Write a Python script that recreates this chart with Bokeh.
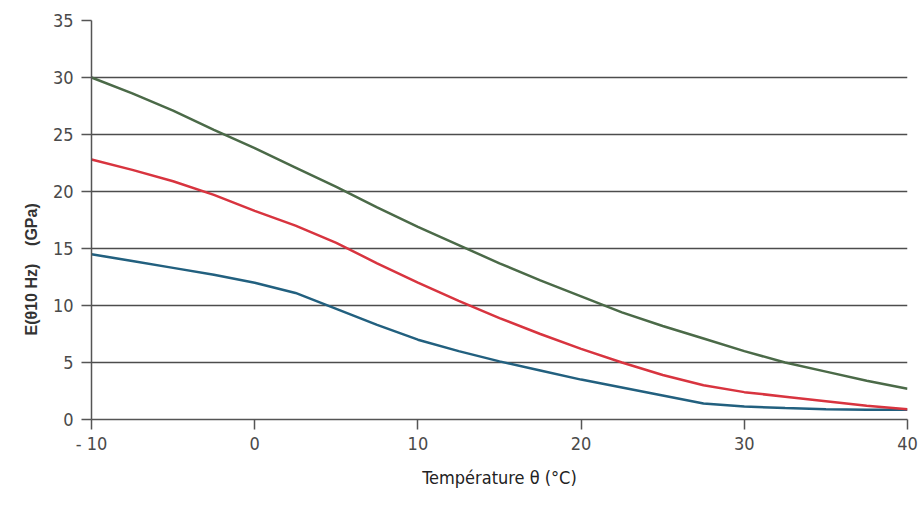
import math
from bokeh.plotting import figure
from bokeh.models import Legend, LegendItem, Range1d, FixedTicker, Title
from bokeh.embed import file_html
from bokeh.resources import INLINE

# Data
temp = [-10, -7.5, -5, -2.5, 0, 2.5, 5, 7.5, 10, 12.5, 15, 17.5, 20, 22.5, 25, 27.5, 30, 32.5, 35, 37.5, 40]
e_beton = [14.5, 13.9, 13.3, 12.7, 12.0, 11.1, 9.7, 8.3, 7.0, 6.0, 5.1, 4.3, 3.5, 2.8, 2.1, 1.4, 1.15, 1.0, 0.9, 0.85, 0.85]
e_grave = [22.8, 21.9, 20.9, 19.7, 18.3, 17.0, 15.5, 13.7, 12.0, 10.4, 8.9, 7.5, 6.2, 5.0, 3.9, 3.0, 2.4, 2.0, 1.6, 1.2, 0.9]
e_eme = [30.0, 28.6, 27.1, 25.4, 23.8, 22.1, 20.4, 18.6, 16.9, 15.3, 13.7, 12.2, 10.8, 9.4, 8.2, 7.1, 6.0, 5.0, 4.2, 3.4, 2.7]

x_ticks = [-10, 0, 10, 20, 30, 40]
x_tick_labels = ["- 10", "0", "10", "20", "30", "40"]
y_ticks = [0, 5, 10, 15, 20, 25, 30, 35]

series_names = ["Béton bitumineux", "Grave bitume", "Enrobé module élevé"]
colors = ["#22607f", "#d8343f", "#4b6a48"]
y_title = "E(θ10 Hz)\u00a0\u00a0\u00a0\u00a0(GPa)"

TICK_FONT = "'DejaVu Sans Condensed', 'Liberation Sans Narrow', 'Liberation Sans', sans-serif"

p = figure(width=919, height=523, frame_width=816, frame_height=399, output_backend="svg",
           toolbar_location=None, x_range=Range1d(-10, 40), y_range=Range1d(0, 35),
           min_border_left=91, min_border_right=12, min_border_top=20, min_border_bottom=0)
p.outline_line_color = None
p.background_fill_color = "white"

p.xgrid.grid_line_color = None
p.ygrid.grid_line_color = "#4d4d4d"
p.ygrid.grid_line_width = 1.5
p.ygrid.ticker = FixedTicker(ticks=y_ticks)

p.xaxis.ticker = FixedTicker(ticks=x_ticks)
p.xaxis.major_label_overrides = {t: l for t, l in zip(x_ticks, x_tick_labels)}
p.yaxis.ticker = FixedTicker(ticks=y_ticks)

for ax in (p.xaxis[0], p.yaxis[0]):
    ax.axis_line_color = "#555555"
    ax.axis_line_width = 1.5
    ax.major_tick_line_color = "#555555"
    ax.major_tick_line_width = 1.5
    ax.major_tick_out = 10
    ax.major_tick_in = 0
    ax.minor_tick_line_color = None
    ax.major_label_text_font = TICK_FONT
    ax.major_label_text_font_size = "18px"
    ax.major_label_text_color = "#4a4a4a"

p.xaxis.major_label_standoff = 3
p.yaxis.major_label_standoff = 8

p.xaxis.axis_label = "Température θ (°C)"
p.xaxis.axis_label_text_font = TICK_FONT
p.xaxis.axis_label_text_font_style = "normal"
p.xaxis.axis_label_text_font_size = "18px"
p.xaxis.axis_label_text_color = "#222222"
p.xaxis.axis_label_standoff = 10

r1 = p.line(temp, e_beton, line_color=colors[0], line_width=2.5)
r2 = p.line(temp, e_grave, line_color=colors[1], line_width=2.5)
r3 = p.line(temp, e_eme, line_color=colors[2], line_width=2.5)

legend = Legend(items=[LegendItem(label=series_names[0], renderers=[r1]),
                       LegendItem(label=series_names[1], renderers=[r2]),
                       LegendItem(label=series_names[2], renderers=[r3])],
                orientation="horizontal", spacing=64, label_standoff=10,
                glyph_width=34, glyph_height=16, label_height=16,
                border_line_color=None,
                background_fill_alpha=0, label_text_font=TICK_FONT,
                label_text_font_size="18px", label_text_color="#222222",
                padding=0, margin=0, location="center")
p.add_layout(legend, "below")

# Y axis title (rotated, on the left)
p.add_layout(Title(text=y_title, align="left", offset=84, standoff=20,
                   text_font="Liberation Sans", text_font_style="bold",
                   text_font_size="16px", text_color="#333333"), "left")

open("out.html", "w").write(file_html(p, INLINE))
